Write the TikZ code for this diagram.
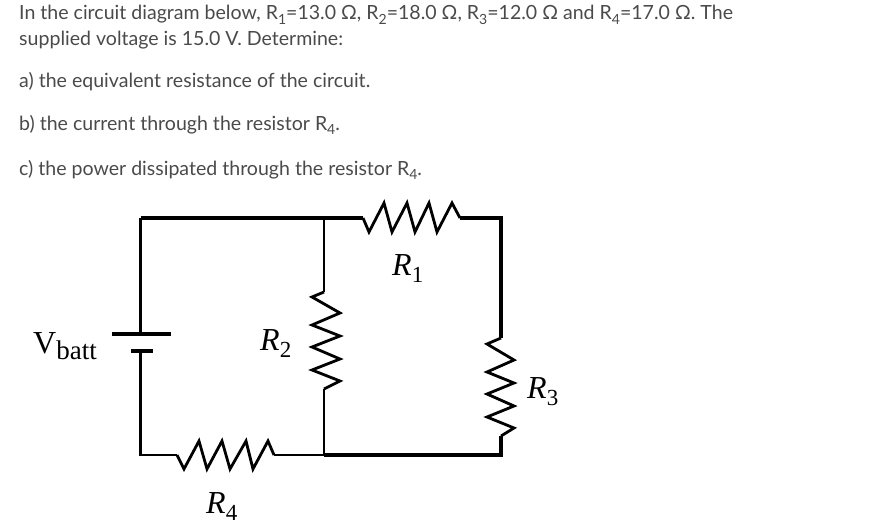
\documentclass[tikz,border=0pt]{standalone}
\usepackage{fontspec}
\setmainfont{Lato}
\newfontfamily\circuitfont{Liberation Serif}
\definecolor{textgray}{HTML}{4A4A4A}
\newcommand{\sbs}[1]{\raisebox{-0.22em}{\fontsize{14}{15}\selectfont #1}}
\newcommand{\lbl}[2]{\textit{#1}\raisebox{-0.22em}{\fontsize{23}{24}\selectfont #2}}
\tikzset{%
  % Specifications for style of nodes:
  question/.style = {anchor=base west, inner sep=0pt, text=textgray,
                     font=\fontsize{19.55}{23}\selectfont},
     label/.style = {anchor=base west, inner sep=0pt, text=black,
                     font=\circuitfont\fontsize{32}{36}\selectfont},
      wire/.style = {draw=black, line width=2.8pt, line join=miter},
     thick/.style = {wire, line width=3.2pt},
     plate/.style = {draw=black, line width=3.3pt},
}
\begin{document}
\begin{tikzpicture}[x=1pt, y=-1pt]
\useasboundingbox (0,0) rectangle (877,532);
% Specification of the question text
\node (line1) [question] at (19,20)
  {In the circuit diagram below, R\sbs{1}=13.0 Ω, R\sbs{2}=18.0 Ω, R\sbs{3}=12.0 Ω and R\sbs{4}=17.0 Ω. The};
\node (line2) [question] at (19,46) {supplied voltage is 15.0 V. Determine:};
\node (parta) [question] at (19,88) {a) the equivalent resistance of the circuit.};
\node (partb) [question] at (19,130) {b) the current through the resistor R\sbs{4}.};
\node (partc) [question] at (19,175) {c) the power dissipated through the resistor R\sbs{4}.};
% Specification of corners and junctions
\coordinate (topleft) at (140.5,218);
\coordinate (toptee) at (324,218);
\coordinate (topright) at (501,218);
\coordinate (botleft) at (140.5,455);
\coordinate (bottee) at (324,455);
\coordinate (botright) at (501,455);
\coordinate (battlong) at (140.5,334);
\coordinate (battshort) at (140.5,351);
\coordinate (rone) at (363,218);
\coordinate (roneend) at (460,218);
\coordinate (rtwo) at (324,292);
\coordinate (rtwoend) at (324,389);
\coordinate (rthree) at (501,338);
\coordinate (rthreeend) at (501,436);
\coordinate (rfour) at (177,455);
\coordinate (rfourend) at (274,455);
% Battery
\draw[plate] (112,334) -- (171,334);
\draw[plate] (131,351) -- (153,351);
% Wires between the parts
\draw[thick] (topleft) -- (rone);
\draw[wire] (topleft) -- (battlong);
\draw[wire] (battshort) -- (botleft) -- (rfour);
\draw[wire] (rfourend) -- (bottee);
\draw[wire] (toptee) -- (rtwo);
\draw[wire] (rtwoend) -- (bottee);
\draw[thick] (roneend) -- (topright) -- (rthree);
\draw[thick] (rthreeend) -- (botright) -- (bottee);
% Resistors
\draw[wire] (rone) -- (369,232) -- (384,203) -- (392,232) -- (407,203) -- (415,232)
  -- (429,203) -- (437,232) -- (452,203) -- (roneend);
\draw[wire] (rtwo) -- (312,297) -- (340,313) -- (312,325) -- (340,336) -- (312,347)
  -- (340,359) -- (312,370) -- (340,381) -- (rtwoend);
\draw[wire] (rthree) -- (487,344) -- (514,360) -- (487,372) -- (514,383) -- (487,394)
  -- (514,406) -- (487,417) -- (514,428) -- (rthreeend);
\draw[wire] (rfour) -- (184,469) -- (199,441) -- (207,469) -- (222,441) -- (230,469)
  -- (246,441) -- (253,469) -- (268,441) -- (rfourend);
% Labels
\node (labelone) [label] at (392,275) {\lbl{R}{1}};
\node (labeltwo) [label] at (260,350) {\lbl{R}{2}};
\node (labelthree) [label] at (527,398) {\lbl{R}{3}};
\node (labelfour) [label] at (206,513) {\lbl{R}{4}};
\node (labelbatt) [label] at (33,353) {V\raisebox{-0.2em}{\fontsize{27}{29}\selectfont batt}};
\end{tikzpicture}
\end{document}
